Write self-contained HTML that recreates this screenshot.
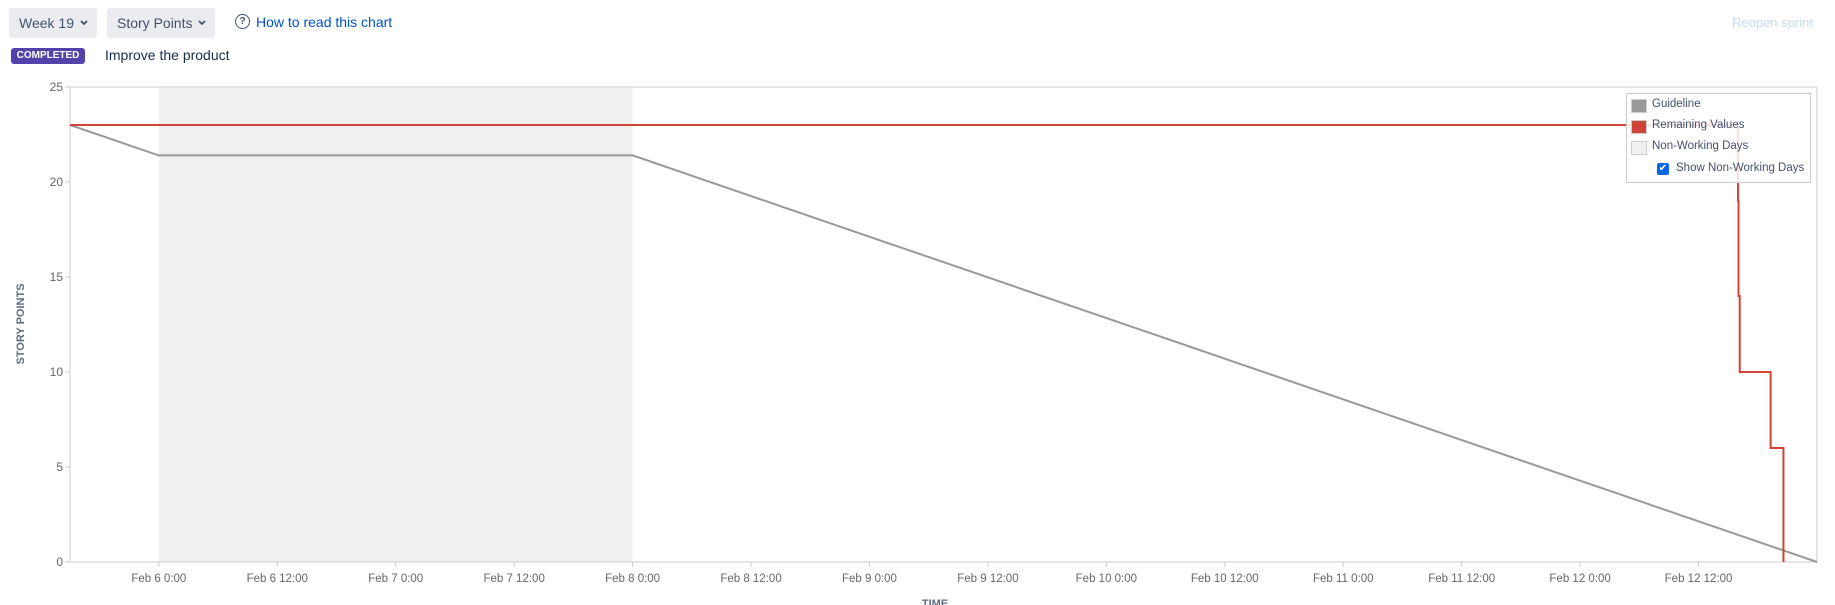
<!DOCTYPE html>
<html><head><meta charset="utf-8">
<style>
body{margin:0;width:1835px;height:605px;overflow:hidden;background:#fff;font-family:"Liberation Sans",sans-serif;position:relative}
.btn{position:absolute;top:8px;height:30px;background:#ebecf0;border-radius:3px;color:#42526e;font-size:14px;line-height:30px;padding:0 10px;box-sizing:border-box}
.btn svg{position:absolute;right:9px;top:12px}
.abs{position:absolute}
</style></head><body>
<div class="btn" style="left:9px;width:88px">Week 19<svg width="8" height="6"><path d="M1 1 L4 4 L7 1" fill="none" stroke="#42526e" stroke-width="1.8"/></svg></div>
<div class="btn" style="left:107px;width:108px">Story Points<svg width="8" height="6"><path d="M1 1 L4 4 L7 1" fill="none" stroke="#42526e" stroke-width="1.8"/></svg></div>
<div class="abs" style="left:235px;top:14px;width:13px;height:13px;border:1.5px solid #42526e;border-radius:50%;font-size:10px;line-height:13px;text-align:center;color:#42526e;font-weight:bold">?</div>
<div class="abs" style="left:256px;top:14px;font-size:14px;color:#0052cc">How to read this chart</div>
<div class="abs" style="left:1732px;top:15px;font-size:13px;color:#c5d9f5">Reopen sprint</div>
<div class="abs" style="left:11px;top:48px;width:74px;height:16px;background:#5243aa;border-radius:3px;color:#fff;font-size:10px;font-weight:bold;line-height:16px;text-align:center">COMPLETED</div>
<div class="abs" style="left:105px;top:47px;font-size:14px;color:#172b4d">Improve the product</div>
<svg id="chart" class="abs" style="left:0;top:0" width="1835" height="605"></svg>
<div class="abs" style="left:1626px;top:93px;width:183px;height:88px;border:1px solid #ccc;background:rgba(255,255,255,0.85);font-size:11.5px;color:#42526e">
 <div class="abs" style="left:4px;top:5px;width:14px;height:12px;background:#999;border:1px solid #ccc"></div>
 <div class="abs" style="left:25px;top:4px">Guideline</div>
 <div class="abs" style="left:4px;top:26px;width:14px;height:12px;background:#d04437;border:1px solid #ccc"></div>
 <div class="abs" style="left:25px;top:25px">Remaining Values</div>
 <div class="abs" style="left:4px;top:47px;width:14px;height:12px;background:#f0f0f0;border:1px solid #ccc"></div>
 <div class="abs" style="left:25px;top:46px">Non-Working Days</div>
 <div class="abs" style="left:30px;top:69px;width:12px;height:12px;background:#0c66e4;border-radius:2px;color:#fff;font-size:10px;line-height:12px;text-align:center">✔</div>
 <div class="abs" style="left:49px;top:68px">Show Non-Working Days</div>
</div>
<script>
const yTicks=[0,5,10,15,20,25];
const xTickLabels=["Feb 6 0:00","Feb 6 12:00","Feb 7 0:00","Feb 7 12:00","Feb 8 0:00","Feb 8 12:00","Feb 9 0:00","Feb 9 12:00","Feb 10 0:00","Feb 10 12:00","Feb 11 0:00","Feb 11 12:00","Feb 12 0:00","Feb 12 12:00"];
const xTickHours=[0,12,24,36,48,60,72,84,96,108,120,132,144,156];
const nonWorking=[[0,48]];
const guideHours=[-9,0,48,168];
const guideValues=[23,21.4,21.4,0];
const remHours=[-9,160,160.05,160.17,163.3,164.6];
const remValues=[23,19,14,10,6,0];
const L=70,R=1817,T=87,B=562,h0=-9,h1=168;
const X=h=>L+(h-h0)/(h1-h0)*(R-L);
const Y=v=>B-v/25*(B-T);
const svg=document.getElementById('chart');
const NS='http://www.w3.org/2000/svg';
function mk(t,a){const e=document.createElementNS(NS,t);for(const k in a)e.setAttribute(k,a[k]);svg.appendChild(e);return e;}
nonWorking.forEach(r=>{const e=mk('rect',{x:X(r[0]),y:T,width:X(r[1])-X(r[0]),height:B-T,fill:'#f0f0f0'});

});
mk('rect',{x:L,y:T,width:R-L,height:B-T,fill:'none',stroke:'#ccc'});
yTicks.forEach(v=>{mk('line',{x1:L-5,x2:L,y1:Y(v),y2:Y(v),stroke:'#ccc'});
const t=mk('text',{x:L-7,y:Y(v)+4,'text-anchor':'end','font-size':12,fill:'#666'});t.textContent=v;

});
xTickLabels.forEach((s,i)=>{const x=X(xTickHours[i]);mk('line',{x1:x,x2:x,y1:B,y2:B+5,stroke:'#ccc'});
const t=mk('text',{x:x,y:B+20,'text-anchor':'middle','font-size':11.5,fill:'#666'});t.textContent=s;

});
let gp=guideHours.map((h,i)=>X(h)+','+Y(guideValues[i])).join(' ');
const g=mk('polyline',{points:gp,fill:'none',stroke:'#999',"stroke-width":2});


let rp=[];remHours.forEach((h,i)=>{if(i>0)rp.push(X(h)+','+Y(remValues[i-1]));rp.push(X(h)+','+Y(remValues[i]));});
const r=mk('polyline',{points:rp.join(' '),fill:'none',stroke:'#d04437',"stroke-width":2});


const yt=mk('text',{x:0,y:0,transform:'translate(24,324) rotate(-90)','text-anchor':'middle','font-size':11,'font-weight':'bold',fill:'#5e6c84'});yt.textContent='STORY POINTS';


const xt=mk('text',{x:935,y:607,'text-anchor':'middle','font-size':11,'font-weight':'bold',fill:'#5e6c84'});xt.textContent='TIME';


</script>
</body></html>
